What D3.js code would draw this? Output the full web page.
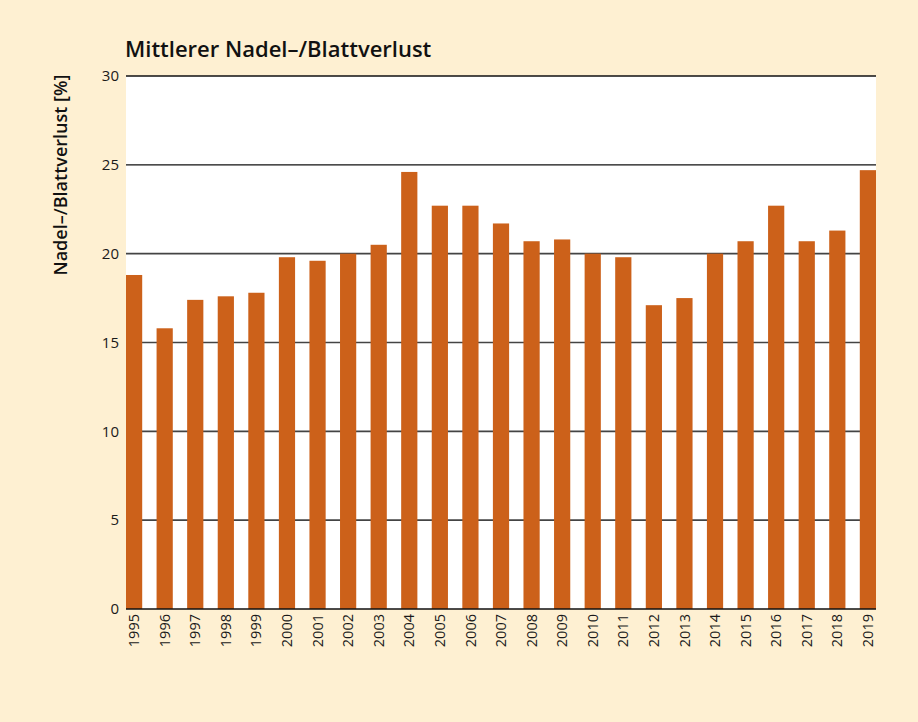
<!DOCTYPE html>
<html>
<head>
<meta charset="utf-8">
<script src="https://cdn.jsdelivr.net/npm/d3@7"></script>
<style>
  html, body { margin: 0; padding: 0; background: #fef0d2; }
  svg { display: block; }
</style>
</head>
<body>
<svg id="chart" width="918" height="722"></svg>
<script>
const years = ["1995","1996","1997","1998","1999","2000","2001","2002","2003","2004","2005","2006","2007",
  "2008","2009","2010","2011","2012","2013","2014","2015","2016","2017","2018","2019"]
const loss = [18.8, 15.8, 17.4, 17.6, 17.8, 19.8, 19.6, 20.0, 20.5, 24.6, 22.7, 22.7, 21.7,
  20.7, 20.8, 20.0, 19.8, 17.1, 17.5, 20.0, 20.7, 22.7, 20.7, 21.3, 24.7]
const yTicks = [0, 5, 10, 15, 20, 25, 30]

const fontFam = "'Open Sans', 'Noto Sans', sans-serif"
const svg = d3.select("#chart")

const plotLeft = 126, plotRight = 876, plotTop = 76, plotBottom = 609

const x = d3.scaleBand()
  .domain(years)
  .range([plotLeft, plotRight])
  .paddingInner(0.47)
  .paddingOuter(0)

const y = d3.scaleLinear()
  .domain([0, 30])
  .range([plotBottom, plotTop])

// plot background
svg.append("rect")
  .attr("x", plotLeft)
  .attr("y", plotTop)
  .attr("width", plotRight - plotLeft)
  .attr("height", plotBottom - plotTop)
  .attr("fill", "#ffffff")

// gridlines
svg.append("g")
  .selectAll("line")
  .data(yTicks.filter(d => d > 0))
  .join("line")
  .attr("x1", plotLeft)
  .attr("x2", plotRight)
  .attr("y1", d => y(d))
  .attr("y2", d => y(d))
  .attr("stroke", d => d >= 25 ? "#111" : "#444")
  .attr("stroke-width", d => d >= 25 ? 1.3 : 1.6)

// bars
svg.append("g")
  .selectAll("rect")
  .data(loss)
  .join("rect")
  .attr("x", (d, i) => x(years[i]))
  .attr("y", d => y(d))
  .attr("width", x.bandwidth())
  .attr("height", d => y(0) - y(d))
  .attr("fill", "#cc611a")

// zero line
svg.append("line")
  .attr("x1", plotLeft)
  .attr("x2", plotRight)
  .attr("y1", y(0))
  .attr("y2", y(0))
  .attr("stroke", "#111")
  .attr("stroke-width", 1.5)

// y tick labels
svg.append("g")
  .selectAll("text")
  .data(yTicks)
  .join("text")
  .attr("x", 119)
  .attr("y", d => y(d))
  .attr("dy", "0.35em")
  .attr("text-anchor", "end")
  .style("font-family", fontFam)
  .style("font-size", "15px")
  .style("fill", "#1a1a1a")
  .text(d => d)

// x labels (rotated)
svg.append("g")
  .selectAll("text")
  .data(years)
  .join("text")
  .attr("transform", d => `translate(${x(d) + x.bandwidth() / 2},614) rotate(-90)`)
  .attr("dy", "0.35em")
  .attr("text-anchor", "end")
  .style("font-family", fontFam)
  .style("font-size", "14.5px")
  .style("fill", "#1a1a1a")
  .text(d => d)

// y axis title
svg.append("text")
  .attr("transform", "translate(61,175) rotate(-90)")
  .attr("dy", "0.35em")
  .attr("text-anchor", "middle")
  .style("font-family", fontFam)
  .style("font-size", "18px")
  .style("font-weight", 600)
  .style("fill", "#111")
  .text("Nadel–/Blattverlust [%]")

// title
svg.append("text")
  .attr("x", 125)
  .attr("y", 57)
  .style("font-family", fontFam)
  .style("font-size", "22px")
  .style("font-weight", 600)
  .style("fill", "#111")
  .text("Mittlerer Nadel–/Blattverlust")
</script>
</body>
</html>
